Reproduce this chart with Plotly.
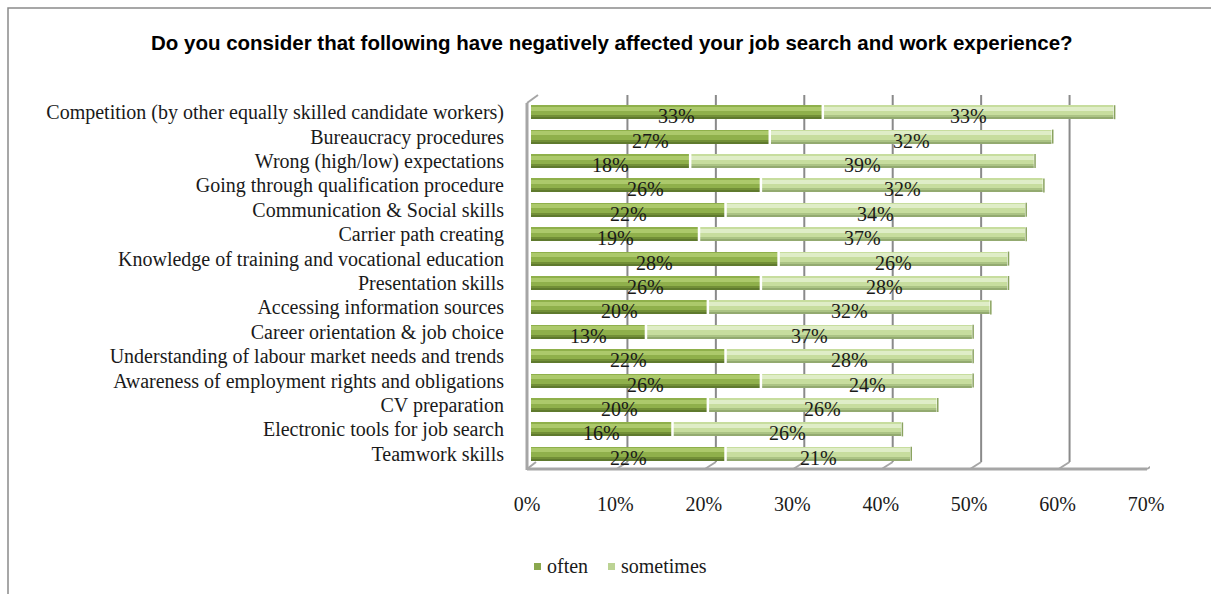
import plotly.graph_objects as go

# ---- data -----------------------------------------------------------------
categories = [
    "Competition (by other equally skilled candidate workers)",
    "Bureaucracy procedures",
    "Wrong (high/low) expectations",
    "Going through qualification procedure",
    "Communication & Social skills",
    "Carrier path creating",
    "Knowledge of training and vocational education",
    "Presentation skills",
    "Accessing information sources",
    "Career orientation & job choice",
    "Understanding of labour market needs and trends",
    "Awareness of employment rights and obligations",
    "CV preparation",
    "Electronic tools for job search",
    "Teamwork skills",
]
often = [33, 27, 18, 26, 22, 19, 28, 26, 20, 13, 22, 26, 20, 16, 22]
sometimes = [33, 32, 39, 32, 34, 37, 26, 28, 32, 37, 28, 24, 26, 26, 21]
tick_values = [0, 10, 20, 30, 40, 50, 60, 70]
tick_labels = [f"{v}%" for v in tick_values]
series_names = ["often", "sometimes"]

title_text = ("Do you consider that following have negatively affected "
              "your job search and work experience?")

# ---- page geometry (pixels) -----------------------------------------------
W, H = 1211, 594
PX0, PX1 = 531, 1150        # x-axis span (0% .. 70%)
PY0, PY1 = 100, 466         # category band span (top .. bottom)
n = len(categories)
step = (PY1 - PY0) / n      # pixels per category row
BAR_PX = 14                 # bar thickness in pixels


def fx(px):
    return px / W


def fy(py):
    return 1 - py / H


SERIF = "Liberation Serif"
totals = [a + b for a, b in zip(often, sometimes)]

# colour sets for the cylinder shading: (body, sheen, shadow, edge)
often_cols = ("#8fb04b", "#acc96b", "#728f37", "#5f7a2e")
some_cols = ("#c7dd9e", "#dfedc7", "#abc384", "#93aa70")
legend_cols = ["#8aa84e", "#bcd394"]

fig = go.Figure()


def band(a, b):
    """offset/width (in category units) for a slice a..b px of the bar"""
    return (-BAR_PX / 2 + a) / step, (b - a) / step


def add_series(name, values, base, cols):
    body, sheen, shadow, edge = cols
    off, wid = band(0, BAR_PX)
    fig.add_trace(go.Bar(
        name=name, y=categories, x=values, base=base, orientation="h",
        marker=dict(color=body, line=dict(width=0)),
        offset=off, width=wid, showlegend=False, hoverinfo="skip",
    ))
    for (a, b, c) in [(1.5, 5.5, sheen), (10, 14, shadow), (12.5, 14, edge)]:
        off, wid = band(a, b)
        fig.add_trace(go.Bar(
            y=categories, x=values, base=base, orientation="h",
            marker=dict(color=c, line=dict(width=0)),
            offset=off, width=wid, showlegend=False, hoverinfo="skip",
        ))


add_series(series_names[0], often, [0] * n, often_cols)
add_series(series_names[1], sometimes, often, some_cols)

# white seams between the segments and at the bar ends
for xs in (often, totals):
    fig.add_trace(go.Scatter(
        x=xs, y=categories, mode="markers", showlegend=False, hoverinfo="skip",
        marker=dict(symbol="line-ns", size=BAR_PX,
                    line=dict(color="white", width=2.5)),
    ))
# dark rim of the rounded bar ends
fig.add_trace(go.Scatter(
    x=totals, y=categories, mode="markers", showlegend=False, hoverinfo="skip",
    marker=dict(symbol="line-ns", size=BAR_PX - 4,
                line=dict(color="#8aa35f", width=1.5)),
))

# data labels
annotations = []
for cat, o, s in zip(categories, often, sometimes):
    for xc, v in ((o / 2, o), (o + s / 2, s)):
        annotations.append(dict(
            x=xc, y=cat, xref="x", yref="y", text=f"{v}%", showarrow=False,
            yshift=-4, font=dict(family=SERIF, size=20, color="#1a1a1a"),
        ))

annotations.append(dict(
    x=fx(612), y=fy(42), xref="paper", yref="paper", text=f"<b>{title_text}</b>",
    showarrow=False, xanchor="center", yanchor="middle",
    font=dict(family="Liberation Sans", size=20.5, color="#000000"),
))

# ---- 3D frame: back-wall gridlines, floor, left wall ----------------------
GRID = "#8a8a8a"
FRAME = "#a6a6a6"
BACK = 8     # back-wall offset in px
FRONT = -3   # floor front offset in px
shapes = []
for v in tick_values[1:]:
    shapes.append(dict(
        type="line", xref="x", yref="paper", xsizemode="pixel", xanchor=v,
        x0=BACK, x1=BACK, y0=fy(462), y1=fy(95),
        line=dict(color=GRID, width=2), layer="below",
    ))
    shapes.append(dict(
        type="line", xref="x", yref="paper", xsizemode="pixel", xanchor=v,
        x0=FRONT, x1=BACK, y0=fy(469), y1=fy(462),
        line=dict(color=FRAME, width=2), layer="below",
    ))
# floor front edge
shapes.append(dict(type="line", xref="paper", yref="paper",
                   x0=fx(527), x1=fx(PX1 + FRONT), y0=fy(469), y1=fy(469),
                   line=dict(color=FRAME, width=3), layer="below"))
# left wall
shapes.append(dict(type="line", xref="paper", yref="paper",
                   x0=fx(527), x1=fx(527), y0=fy(470), y1=fy(103),
                   line=dict(color=FRAME, width=3), layer="below"))
shapes.append(dict(type="line", xref="paper", yref="paper",
                   x0=fx(527), x1=fx(538), y0=fy(103), y1=fy(95),
                   line=dict(color=FRAME, width=2), layer="below"))
shapes.append(dict(type="line", xref="paper", yref="paper",
                   x0=fx(527), x1=fx(536), y0=fy(469), y1=fy(462),
                   line=dict(color=FRAME, width=2), layer="below"))
# outer chart border
shapes.append(dict(type="path", xref="paper", yref="paper",
                   path=f"M {fx(8)},{fy(600)} L {fx(8)},{fy(8)} L {fx(1220)},{fy(8)}",
                   line=dict(color="#8a8a8a", width=1.5), layer="below"))

# ---- legend (square key + label for each series) ---------------------------
LEG_Y = 566
for name, col, key_x in zip(series_names, legend_cols, (534, 608)):
    shapes.append(dict(type="rect", xref="paper", yref="paper",
                       x0=fx(key_x), x1=fx(key_x + 7),
                       y0=fy(LEG_Y + 4), y1=fy(LEG_Y - 3),
                       fillcolor=col, line=dict(width=0)))
    annotations.append(dict(
        x=fx(key_x + 11), y=fy(LEG_Y), xref="paper", yref="paper", text=name,
        showarrow=False, xanchor="left", yanchor="middle",
        font=dict(family=SERIF, size=20, color="#1a1a1a"),
    ))

fig.update_layout(
    width=W, height=H,
    margin=dict(l=0, r=0, t=0, b=0),
    paper_bgcolor="white", plot_bgcolor="rgba(0,0,0,0)",
    barmode="overlay", bargap=0,
    shapes=shapes, annotations=annotations,
    showlegend=False,
    xaxis=dict(
        domain=[fx(PX0), fx(PX1)], range=[0, 70],
        tickmode="array", tickvals=tick_values, ticktext=tick_labels,
        showgrid=False, zeroline=False, showline=False,
        ticks="", automargin=False, ticklabelstandoff=24, ticklabelshift=-4,
        tickfont=dict(family=SERIF, size=20, color="#1a1a1a"),
    ),
    yaxis=dict(
        domain=[fy(PY1), fy(PY0)], type="category", categoryorder="array",
        categoryarray=categories, range=[n - 0.5, -0.5], autorange=False,
        tickmode="array", tickvals=categories,
        showgrid=False, zeroline=False, showline=False, ticks="",
        automargin=False, ticklabelstandoff=26,
        tickfont=dict(family=SERIF, size=20, color="#1a1a1a"),
    ),
)

fig.write_html("out.html")
